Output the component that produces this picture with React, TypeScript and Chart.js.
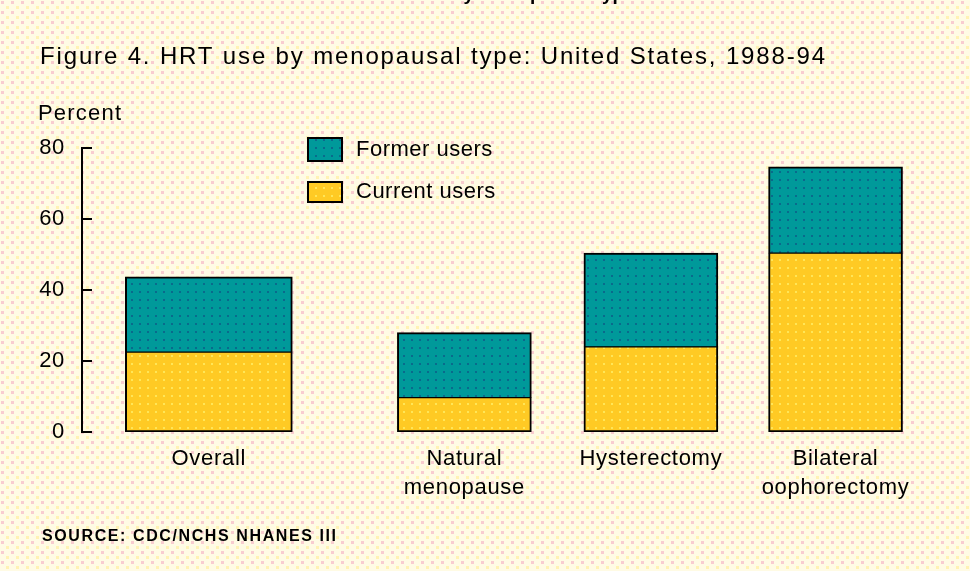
import React, { useEffect, useRef } from 'react';
import { Chart, registerables } from 'chart.js';

Chart.register(...registerables);

// ---- data ----
const categories: (string | string[])[] = ['Overall', ['Natural', 'menopause'], 'Hysterectomy', ['Bilateral', 'oophorectomy']];
const currentUsers = [22.5, 9.7, 24.0, 50.4];
const formerUsers = [21.2, 18.3, 26.4, 24.3];
const seriesLabels = ['Former users', 'Current users'];
const yTickMin = 0;
const yTickMax = 80;
const yTickStep = 20;
const titleText = 'Figure 4. HRT use by menopausal type: United States, 1988-94';
const yAxisTitle = 'Percent';
const sourceText = 'SOURCE: CDC/NCHS NHANES III';
const headerFragment = 'by menopausal type';

// ---- layout ----
const W = 970;
const H = 571;
const slotPositions = [0.68, 2.05, 3.05, 4.04];
const X_MAX = 4.6;
const FONT = '"Liberation Sans", Arial, sans-serif';

function makePattern(size: number, base: string, dots: [number, number, number, number, string][]) {
  const c = document.createElement('canvas');
  c.width = size;
  c.height = size;
  const g = c.getContext('2d')!;
  g.fillStyle = base;
  g.fillRect(0, 0, size, size);
  dots.forEach(([x, y, w, h, col]) => {
    g.fillStyle = col;
    g.fillRect(x, y, w, h);
  });
  const ctx = document.createElement('canvas').getContext('2d')!;
  return ctx.createPattern(c, 'repeat')!;
}

export default function App() {
  const ref = useRef<HTMLCanvasElement | null>(null);

  useEffect(() => {
    document.body.style.margin = '0';
    const canvas = ref.current!;
    const bgPattern = makePattern(10, '#FFFBE4', [
      [1, 1, 3, 3, '#F8CCD0'],
      [6, 6, 3, 3, '#FFF2B4'],
    ]);
    const tealPattern = makePattern(8, '#00999A', [[3, 3, 2, 2, '#0A6A8C']]);
    const yellowPattern = makePattern(8, '#FFCA24', [[3, 3, 2, 2, '#FFE658']]);

    const pts = (vals: number[], idx: number[]) => idx.map((i) => ({ x: slotPositions[i], y: vals[i] }));

    const curBorder = { top: 1, left: 2, right: 2, bottom: 2 };
    const formBorder = { top: 2, left: 2, right: 2, bottom: 1 };

    const datasets: any[] = [
      {
        label: seriesLabels[1],
        data: pts(currentUsers, [0]),
        backgroundColor: yellowPattern,
        borderColor: '#000',
        borderWidth: curBorder,
        borderSkipped: false,
        barThickness: 167,
        stack: 's',
      },
      {
        label: seriesLabels[1],
        data: pts(currentUsers, [1, 2, 3]),
        backgroundColor: yellowPattern,
        borderColor: '#000',
        borderWidth: curBorder,
        borderSkipped: false,
        barThickness: 134,
        stack: 's',
      },
      {
        label: seriesLabels[0],
        data: pts(formerUsers, [0]),
        backgroundColor: tealPattern,
        borderColor: '#000',
        borderWidth: formBorder,
        borderSkipped: false,
        barThickness: 167,
        stack: 's',
      },
      {
        label: seriesLabels[0],
        data: pts(formerUsers, [1, 2, 3]),
        backgroundColor: tealPattern,
        borderColor: '#000',
        borderWidth: formBorder,
        borderSkipped: false,
        barThickness: 134,
        stack: 's',
      },
    ];

    const decor = {
      id: 'decor',
      beforeLayout(chart: any) {
        chart.ctx.letterSpacing = '0.7px';
      },
      beforeDraw(chart: any) {
        const ctx = chart.ctx;
        ctx.save();
        ctx.fillStyle = bgPattern;
        ctx.fillRect(0, 0, W, H);
        ctx.restore();
        ctx.letterSpacing = '0.7px';
      },
      afterDraw(chart: any) {
        const ctx = chart.ctx;
        const ys = chart.scales.y;
        const left = chart.chartArea.left;
        ctx.save();
        // inward tick marks
        ctx.strokeStyle = '#000';
        ctx.lineWidth = 2;
        ys.ticks.forEach((t: any) => {
          const y = Math.round(ys.getPixelForValue(t.value));
          ctx.beginPath();
          ctx.moveTo(left - 1, y);
          ctx.lineTo(left + 10, y);
          ctx.stroke();
        });

        ctx.fillStyle = '#000';
        // header fragment (cut off at top)
        ctx.font = `bold 19px ${FONT}`;
        ctx.letterSpacing = '0px';
        ctx.textBaseline = 'alphabetic';
        ctx.textAlign = 'left';
        ctx.fillText(headerFragment, 452, 0);

        // title
        ctx.font = `24px ${FONT}`;
        ctx.letterSpacing = '1.85px';
        ctx.fillText(titleText, 40, 64);

        // y axis title
        ctx.font = `22px ${FONT}`;
        ctx.letterSpacing = '1.2px';
        ctx.fillText(yAxisTitle, 38, 120);

        // legend
        const items = [
          { label: seriesLabels[0], fill: tealPattern, top: 137, h: 25, cy: 150 },
          { label: seriesLabels[1], fill: yellowPattern, top: 181, h: 22, cy: 192 },
        ];
        items.forEach((it) => {
          ctx.fillStyle = it.fill;
          ctx.fillRect(307, it.top, 36, it.h);
          ctx.strokeStyle = '#000';
          ctx.lineWidth = 2;
          ctx.strokeRect(308, it.top + 1, 34, it.h - 2);
          ctx.fillStyle = '#000';
          ctx.font = `22px ${FONT}`;
          ctx.letterSpacing = '0.5px';
          ctx.textBaseline = 'middle';
          ctx.fillText(it.label, 356, it.cy);
        });

        // source
        ctx.font = `bold 16px ${FONT}`;
        ctx.letterSpacing = '1.6px';
        ctx.textBaseline = 'middle';
        ctx.fillText(sourceText, 42, 537);
        ctx.restore();
      },
    };

    const chart = new Chart(canvas, {
      type: 'bar',
      data: { datasets },
      options: {
        animation: false,
        responsive: false,
        events: [],
        layout: { padding: { top: 148, right: 30, left: 0, bottom: 0 } },
        plugins: {
          legend: { display: false },
          title: { display: false },
          tooltip: { enabled: false },
        },
        scales: {
          x: {
            type: 'linear',
            min: 0,
            max: X_MAX,
            stacked: true,
            offset: false,
            grid: { display: false, offset: false },
            border: { display: false },
            afterBuildTicks: (scale: any) => {
              scale.ticks = slotPositions.map((v) => ({ value: v }));
            },
            afterFit: (scale: any) => {
              scale.height = H - 432;
            },
            ticks: {
              autoSkip: false,
              maxRotation: 0,
              minRotation: 0,
              padding: 5,
              color: '#000',
              font: { family: FONT, size: 22, lineHeight: 1.3 },
              callback: (_v: any, i: number) => categories[i],
            },
          },
          y: {
            min: yTickMin,
            max: yTickMax,
            stacked: true,
            grid: { display: false, drawTicks: false },
            border: { display: true, color: '#000', width: 2 },
            afterFit: (scale: any) => {
              scale.width = 82;
            },
            ticks: {
              stepSize: yTickStep,
              padding: 17,
              color: '#000',
              font: { family: FONT, size: 22 },
            },
          },
        },
      } as any,
      plugins: [decor],
    });
    return () => chart.destroy();
  }, []);

  return (
    <div style={{ width: W, height: H }}>
      <canvas ref={ref} width={W} height={H} style={{ display: 'block', width: W, height: H }} />
    </div>
  );
}
